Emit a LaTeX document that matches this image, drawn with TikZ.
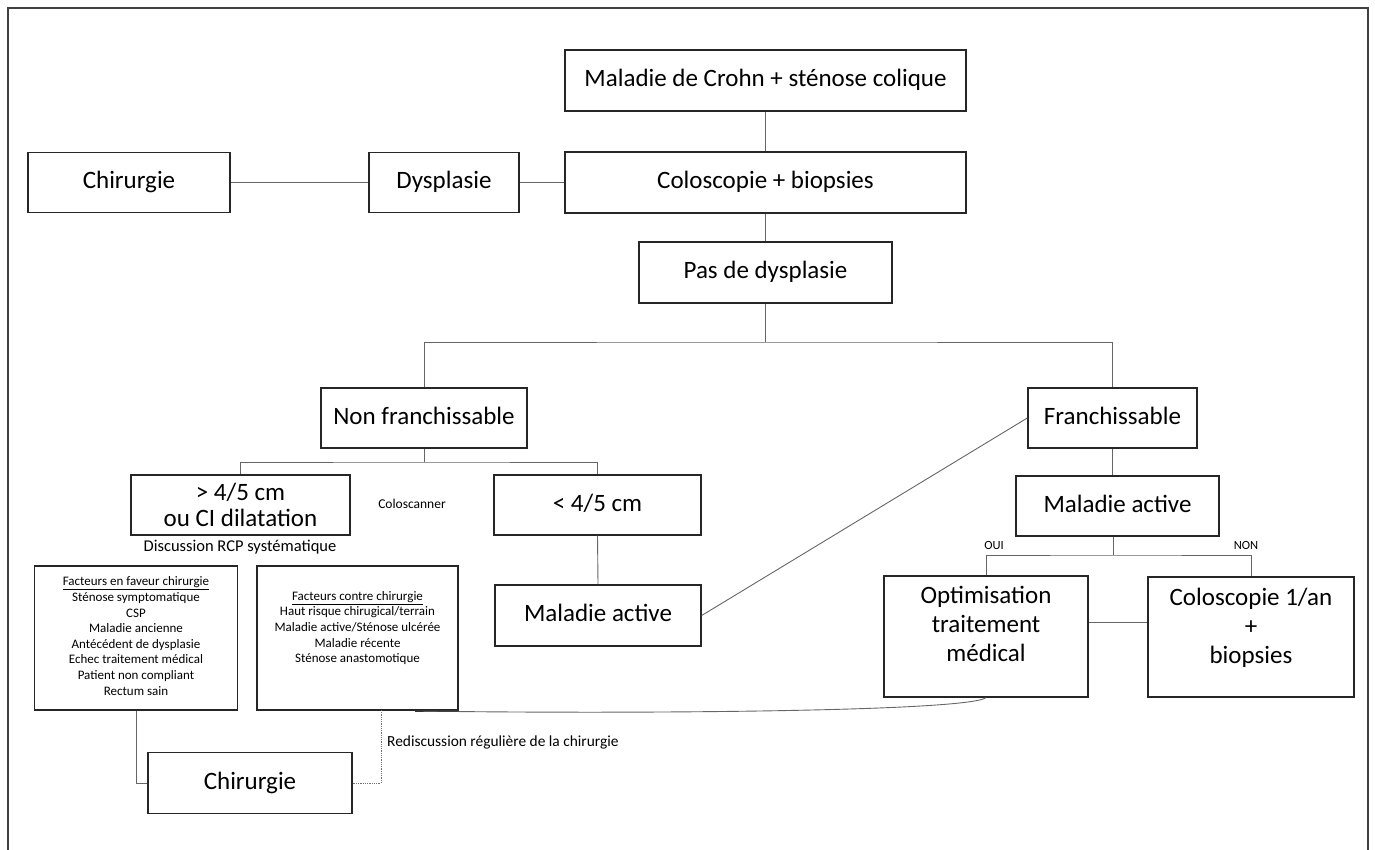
\documentclass[tikz,border=0pt]{standalone}
\usepackage{fontspec}
\setmainfont{Carlito}
\begin{document}
\begin{tikzpicture}[x=1pt,y=-1pt,
  bx/.style={draw=black!85, line width=1.4pt, fill=white, inner sep=0pt,
             font=\fontsize{25}{29}\selectfont, text height=17pt, text depth=5pt},
  fx/.style={draw=black!85, line width=1.4pt, fill=white, inner sep=0pt},
  txt/.style={align=center, inner sep=0pt, font=\fontsize{25}{29}\selectfont},
  small/.style={align=center, inner sep=0pt, font=\fontsize{13}{15.6}\selectfont},
  lbl/.style={inner sep=0pt, font=\fontsize{13.5}{15}\selectfont},
  tiny/.style={inner sep=0pt, font=\fontsize{12.5}{14}\selectfont},
  ln/.style={draw=black!60, line width=0.9pt},
  dl/.style={draw=black!55, line width=0.8pt, densely dotted}]
\useasboundingbox (0,0) rectangle (1375,850);
% outer frame (open at bottom)
\draw[draw=black!75, line width=1.4pt] (8,850) -- (8,8) -- (1368,8) -- (1368,850);

\coordinate (j1) at (765.5,342);
\coordinate (j2) at (424,462);
\coordinate (j3) at (1113,555);

% nodes
\node[bx, minimum width=401pt, minimum height=61pt] (top) at (765.5,80.5) {Maladie de Crohn + sténose colique};
\node[bx, minimum width=401pt, minimum height=61pt] (colo) at (765.5,182.5) {Coloscopie + biopsies};
\node[bx, minimum width=150pt, minimum height=60pt] (dysp) at (444,182.5) {Dysplasie};
\node[bx, minimum width=202pt, minimum height=60pt] (chir1) at (129,182.5) {Chirurgie};
\node[bx, minimum width=253pt, minimum height=61pt] (pasd) at (765.5,272.5) {Pas de dysplasie};
\node[bx, minimum width=206pt, minimum height=60pt] (nonf) at (424,418) {Non franchissable};
\node[bx, minimum width=169pt, minimum height=60pt] (franch) at (1112.5,418) {Franchissable};
\node[fx, minimum width=219pt, minimum height=60pt] (gt) at (240.5,505) {};
\node[txt, font=\fontsize{25}{25.5}\selectfont] (gtt) at (240.5,505) {> 4/5 cm\\ou CI dilatation};
\node[bx, minimum width=207pt, minimum height=60pt] (lt) at (597.5,505) {< 4/5 cm};
\node[lbl] (cscan) at (412,504) {Coloscanner};
\node[lbl, font=\fontsize{16.5}{18}\selectfont] (rcp) at (240,547) {Discussion RCP systématique};
\node[fx, minimum width=203pt, minimum height=144pt] (fav) at (136,638) {};
\node[small] (favt) at (136,636) {\underline{Facteurs en faveur chirurgie}\\Sténose symptomatique\\CSP\\Maladie ancienne\\Antécédent de dysplasie\\Echec traitement médical\\Patient non compliant\\Rectum sain};
\node[fx, minimum width=201pt, minimum height=144pt] (con) at (357.5,638) {};
\node[small, anchor=north] (cont) at (357.5,591) {\underline{Facteurs contre chirurgie}\\Haut risque chirugical/terrain\\Maladie active/Sténose ulcérée\\Maladie récente\\Sténose anastomotique};
\node[bx, minimum width=206pt, minimum height=61pt] (mal1) at (598,615.5) {Maladie active};
\node[bx, minimum width=203pt, minimum height=60pt] (mal2) at (1117.5,506) {Maladie active};
\node[tiny] (oui) at (994,545) {OUI};
\node[tiny] (non) at (1246,545) {NON};
\node[fx, minimum width=204pt, minimum height=121pt] (opt) at (986,636.5) {};
\node[txt] (optt) at (986,624) {Optimisation\\traitement\\médical};
\node[fx, minimum width=206pt, minimum height=120pt] (col1) at (1251,637) {};
\node[txt] (col1t) at (1251,628) {Coloscopie 1/an\\+\\biopsies};
\node[bx, minimum width=204pt, minimum height=61pt] (chir2) at (250,783) {Chirurgie};
\node[lbl, anchor=west, font=\fontsize{15.4}{17}\selectfont] (redis) at (387,742) {Rediscussion régulière de la chirurgie};
\coordinate (cend) at (415,711);
\coordinate (rd) at (381,710);

% connectors
\draw[ln] (top.south) -- (colo.north);
\draw[ln] (colo.south) -- (pasd.north);
\draw[ln] (colo.west) -- (dysp.east);
\draw[ln] (dysp.west) -- (chir1.east);
\draw[ln] (pasd.south) -- (j1);
\draw[ln] (nonf.north) |- (j1) -| (franch.north);
\draw[ln] (nonf.south) -- (j2);
\draw[ln] (gt.north) |- (j2) -| (lt.north);
\draw[ln] (lt.south) -- (mal1.north);
\draw[ln] (mal1.east) -- (franch.west);
\draw[ln] (franch.south) -- (franch.south |- mal2.north);
\draw[ln] (mal2.south -| j3) -- (j3);
\draw[ln] (opt.north) |- (j3) -| (col1.north);
\draw[ln] (opt.east |- 0,622) -- (col1.west |- 0,622);
\draw[ln] (opt.south) .. controls (965,712) and (620,714) .. (cend);
\draw[draw=black!80, line width=1.6pt] (cend) -- (con.south east);
\draw[ln] (fav.south) |- (chir2.west);
\draw[dl] (rd) |- (chir2.east);
\end{tikzpicture}
\end{document}
